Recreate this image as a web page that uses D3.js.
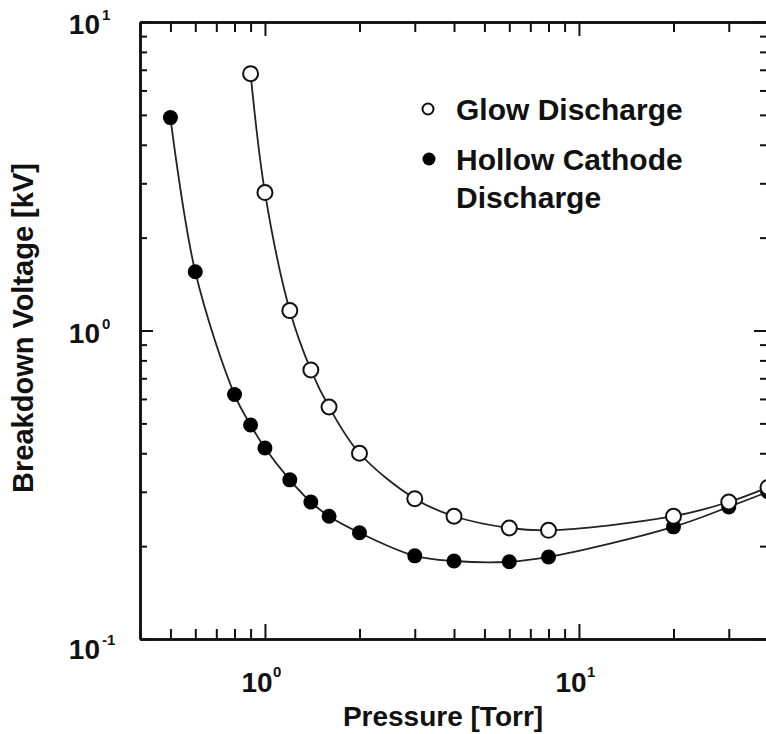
<!DOCTYPE html>
<html><head><meta charset="utf-8">
<script src="https://cdn.jsdelivr.net/npm/d3@7"></script>
<style>
html,body{margin:0;padding:0;background:#fff;}
svg text{font-family:"Liberation Sans",Arial,Helvetica,sans-serif;fill:#111;}
</style></head>
<body>
<svg id="chart" width="766" height="734"></svg>
<script>
// ---- data ----
const pressureGlow   = [0.9, 1.0, 1.2, 1.4, 1.6, 2, 3, 4, 6, 8, 20, 30, 40];
const voltageGlow    = [6.8, 2.8, 1.16, 0.745, 0.565, 0.40, 0.285, 0.25, 0.229, 0.225, 0.25, 0.278, 0.31];
const pressureHollow = [0.5, 0.6, 0.8, 0.9, 1.0, 1.2, 1.4, 1.6, 2, 3, 4, 6, 8, 20, 30, 40];
const voltageHollow  = [4.9, 1.55, 0.62, 0.494, 0.416, 0.328, 0.278, 0.25, 0.221, 0.186, 0.179, 0.178, 0.1845, 0.231, 0.268, 0.30];
const seriesNames = ["Glow Discharge", "Hollow Cathode\nDischarge"];
const xMajorTicks = [1, 10];
const xMajorExp = ["0", "1"];
const yMajorTicks = [0.1, 1, 10];
const yMajorExp = ["-1", "0", "1"];
const xTitle = "Pressure [Torr]";
const yTitle = "Breakdown Voltage [kV]";

const svg = d3.select("#chart");
const x = d3.scaleLog().domain([0.4, 40]).range([140, 768]);
const y = d3.scaleLog().domain([0.1, 10]).range([639, 22]);

const xMinor = [];
[0.1, 1, 10].forEach(d => { for (let k = 2; k <= 9; k++) { const v = d * k; if (v >= 0.4 && v <= 40) xMinor.push(+v.toPrecision(3)); } });
const yMinor = [];
[0.1, 1].forEach(d => { for (let k = 2; k <= 9; k++) yMinor.push(+(d * k).toPrecision(3)); });

function styleAxis(g) {
  g.selectAll("path.domain").attr("stroke", "#111").attr("stroke-width", 2.5);
  g.selectAll(".tick line").attr("stroke", "#111").attr("stroke-width", 2);
  g.selectAll(".tick text").remove();
}
const [x0, x1] = x.range(), [y0, y1] = y.range();
// bottom
svg.append("g").attr("transform", `translate(0,${y0})`)
  .call(d3.axisBottom(x).tickValues(xMinor).tickSizeInner(-10).tickSizeOuter(0)).call(styleAxis);
svg.append("g").attr("transform", `translate(0,${y0})`)
  .call(d3.axisBottom(x).tickValues(xMajorTicks).tickSizeInner(-15).tickSizeOuter(0)).call(styleAxis);
// top
svg.append("g").attr("transform", `translate(0,${y1})`)
  .call(d3.axisTop(x).tickValues(xMinor).tickSizeInner(-10).tickSizeOuter(0)).call(styleAxis);
svg.append("g").attr("transform", `translate(0,${y1})`)
  .call(d3.axisTop(x).tickValues(xMajorTicks).tickSizeInner(-14).tickSizeOuter(0)).call(styleAxis);
// left
svg.append("g").attr("transform", `translate(${x0},0)`)
  .call(d3.axisLeft(y).tickValues(yMinor).tickSizeInner(-7).tickSizeOuter(0)).call(styleAxis);
svg.append("g").attr("transform", `translate(${x0},0)`)
  .call(d3.axisLeft(y).tickValues(yMajorTicks).tickSizeInner(-13).tickSizeOuter(0)).call(styleAxis);
// right
svg.append("g").attr("transform", `translate(${x1 - 1},0)`)
  .call(d3.axisRight(y).tickValues(yMinor).tickSizeInner(-7).tickSizeOuter(0)).call(styleAxis);
svg.append("g").attr("transform", `translate(${x1 - 1},0)`)
  .call(d3.axisRight(y).tickValues(yMajorTicks).tickSizeInner(-13).tickSizeOuter(0)).call(styleAxis);

// tick labels
yMajorTicks.forEach((v, i) => {
  svg.append("text").attr("x", 100).attr("y", y(v) + 12 + (i === 0 ? 8 : 0))
    .attr("text-anchor", "end").attr("font-size", 28).attr("font-weight", "bold").text("10");
  svg.append("text").attr("x", 102).attr("y", y(v) - 2 + (i === 0 ? 8 : 0))
    .attr("font-size", 15).attr("font-weight", "bold").text(yMajorExp[i]);
});
xMajorTicks.forEach((v, i) => {
  svg.append("text").attr("x", x(v) - 8).attr("y", 692)
    .attr("text-anchor", "middle").attr("font-size", 28).attr("font-weight", "bold").text("10");
  svg.append("text").attr("x", x(v) + 8).attr("y", 677)
    .attr("font-size", 15).attr("font-weight", "bold").text(xMajorExp[i]);
});

// axis titles
svg.append("text").attr("x", 443).attr("y", 726).attr("text-anchor", "middle")
  .attr("font-size", 28).attr("font-weight", "bold").text(xTitle);
svg.append("text").attr("transform", "translate(33,328) rotate(-90)").attr("text-anchor", "middle")
  .attr("font-size", 29).attr("font-weight", "bold").text(yTitle);

// curves
const line = d3.line().x(d => x(d[0])).y(d => y(d[1])).curve(d3.curveCatmullRom.alpha(0.5));
const glow = pressureGlow.map((p, i) => [p, voltageGlow[i]]);
const hollow = pressureHollow.map((p, i) => [p, voltageHollow[i]]);
const plot = svg.append("g");
plot.append("path").datum(hollow).attr("d", line).attr("fill", "none").attr("stroke", "#222").attr("stroke-width", 1.8);
plot.append("path").datum(glow).attr("d", line).attr("fill", "none").attr("stroke", "#222").attr("stroke-width", 1.8);
plot.selectAll("circle.h").data(hollow).join("circle").attr("class", "h")
  .attr("cx", d => x(d[0])).attr("cy", d => y(d[1])).attr("r", 7.5).attr("fill", "#000");
plot.selectAll("circle.g").data(glow).join("circle").attr("class", "g")
  .attr("cx", d => x(d[0])).attr("cy", d => y(d[1])).attr("r", 7.5).attr("fill", "#fff")
  .attr("stroke", "#111").attr("stroke-width", 2);

// legend
const lg = svg.append("g");
lg.append("circle").attr("cx", 428).attr("cy", 109).attr("r", 5.5).attr("fill", "#fff").attr("stroke", "#111").attr("stroke-width", 2);
lg.append("text").attr("x", 456).attr("y", 120).attr("font-size", 30).attr("font-weight", "bold").text(seriesNames[0]);
lg.append("circle").attr("cx", 429).attr("cy", 159).attr("r", 6.5).attr("fill", "#000");
const parts = seriesNames[1].split("\n");
lg.append("text").attr("x", 456).attr("y", 170).attr("font-size", 30).attr("font-weight", "bold").text(parts[0]);
lg.append("text").attr("x", 456).attr("y", 208).attr("font-size", 30).attr("font-weight", "bold").text(parts[1]);
</script>
</body></html>
